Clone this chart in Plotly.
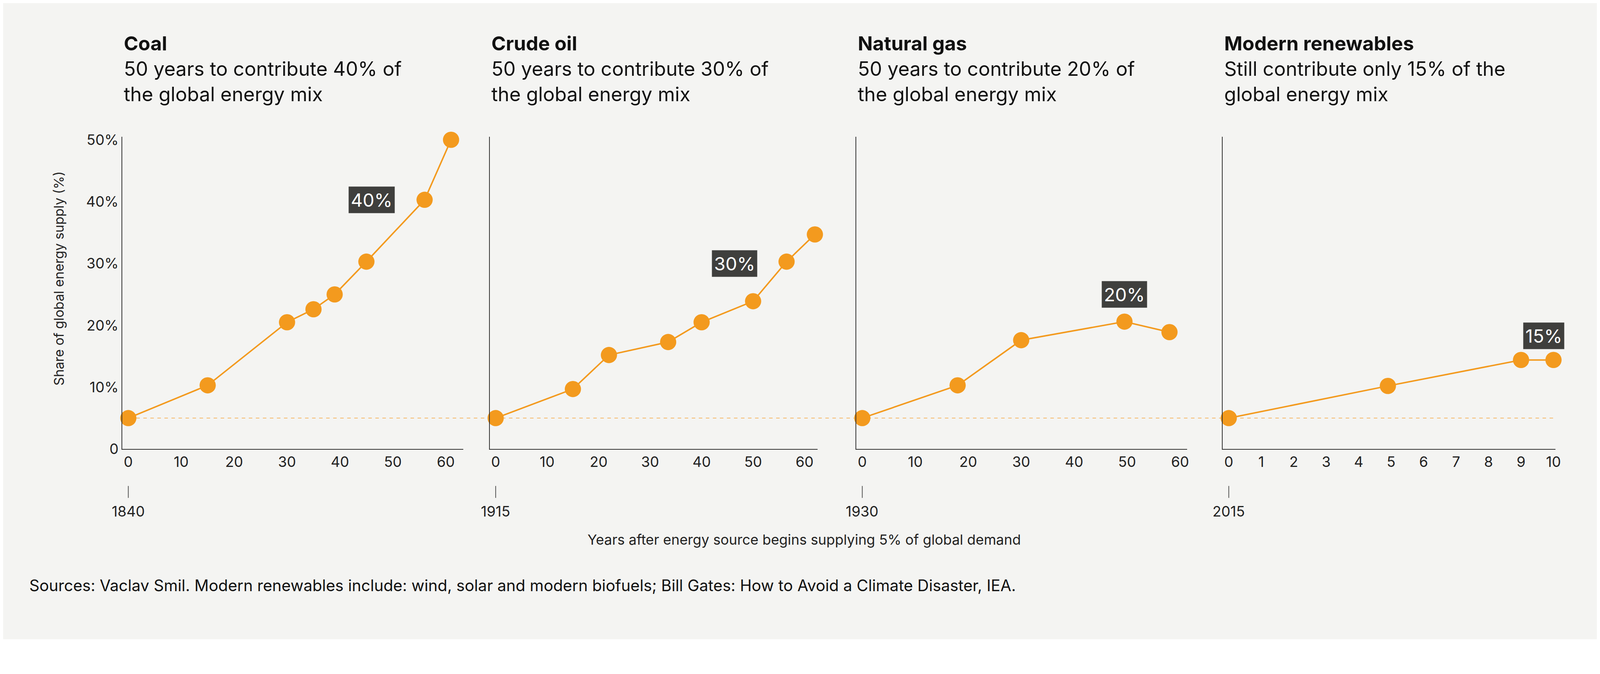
import plotly.graph_objects as go

# ---- data ----
coal_x = [0, 15, 30, 35, 39, 45, 56, 61]
coal_y = [5, 10.3, 20.5, 22.6, 25, 30.3, 40.3, 50]
oil_x = [0, 15, 22, 33.5, 40, 50, 56.5, 62]
oil_y = [5, 9.7, 15.2, 17.3, 20.5, 23.9, 30.3, 34.7]
gas_x = [0, 18, 30, 49.5, 58]
gas_y = [5, 10.3, 17.6, 20.6, 18.9]
ren_x = [0, 4.9, 9, 10]
ren_y = [5, 10.2, 14.4, 14.4]

titles = ["Coal", "Crude oil", "Natural gas", "Modern renewables"]
subtitles = [
    "50 years to contribute 40% of<br>the global energy mix",
    "50 years to contribute 30% of<br>the global energy mix",
    "50 years to contribute 20% of<br>the global energy mix",
    "Still contribute only 15% of the<br>global energy mix",
]
start_years = ["1840", "1915", "1930", "2015"]
badges = ["40%", "30%", "20%", "15%"]
badge_pos = [(46, 40.3), (46.4, 30), (49.5, 25), (9.7, 18.3)]

xs = [coal_x, oil_x, gas_x, ren_x]
ys = [coal_y, oil_y, gas_y, ren_y]

W, H = 1568, 623  # reference coordinates
domains = [(117, 452), (478, 800), (838, 1163), (1198, 1525)]
ranges = [(-1.15, 63.3), (-1.16, 62.5), (-1.16, 61.3), (-0.19, 10.06)]
tickvals = [list(range(0, 61, 10))] * 3 + [list(range(0, 11))]

ORANGE = "#F39A1E"
BG = "#F4F4F2"
FONT = "Inter"
S = 0.944  # scale to fit the viewport

fig = go.Figure()

for i in range(4):
    n = "" if i == 0 else str(i + 1)
    fig.add_trace(go.Scatter(
        x=xs[i], y=ys[i], mode="lines+markers",
        line=dict(color=ORANGE, width=4 * S),
        marker=dict(color=ORANGE, size=44 * S),
        cliponaxis=False, showlegend=False,
        xaxis="x" + n, yaxis="y" + n,
    ))
    d0, d1 = domains[i]
    fig.layout["xaxis" + n] = dict(
        domain=[d0 / W, d1 / W], range=list(ranges[i]),
        tickvals=tickvals[i], showgrid=False, zeroline=False,
        showline=True, linecolor="#333", linewidth=2,
        ticks="", tickfont=dict(size=39 * S, color="#222"),
        anchor="y" + n, fixedrange=True,
    )
    fig.layout["yaxis" + n] = dict(
        domain=[1 - 441 / H, 1 - 128 / H], range=[0, 50.5],
        tickvals=[0, 10, 20, 30, 40, 50],
        ticktext=["0", "10%", "20%", "30%", "40%", "50%"],
        showticklabels=(i == 0), showgrid=False, zeroline=False,
        showline=True, linecolor="#333", linewidth=2, ticks="",
        tickfont=dict(size=39 * S, color="#222"),
        anchor="x" + n, fixedrange=True,
    )
    # title block
    fig.add_annotation(
        xref="paper", yref="paper", x=(d0 + 1) / W, y=1 - 22 / H,
        xanchor="left", yanchor="top", align="left", showarrow=False,
        text="<b>" + titles[i] + "</b><br>" + subtitles[i],
        font=dict(size=53 * S, color="#111", family=FONT),
    )
    # badge
    bx, by = badge_pos[i]
    fig.add_annotation(
        xref="x" + n, yref="y" + n, x=bx, y=by, showarrow=False,
        text=badges[i], bgcolor="#3F3F3D", borderpad=5,
        font=dict(size=50 * S, color="white", family=FONT),
    )
    # start year tick + label
    fig.add_shape(type="line", xref="x" + n, yref="paper",
                  x0=0, x1=0, y0=1 - 478 / H, y1=1 - 490 / H,
                  line=dict(color="#555", width=2))
    fig.add_annotation(
        xref="x" + n, yref="paper", x=0, y=1 - 513 / H, showarrow=False,
        text=start_years[i], font=dict(size=39 * S, color="#222", family=FONT),
    )

# 5% reference line across all panels
fig.add_shape(type="line", xref="paper", yref="y",
              x0=117 / W, x1=1525 / W, y0=5, y1=5, layer="below",
              line=dict(color="#F5B96A", width=2, dash="dash"))

fig.add_annotation(xref="paper", yref="paper", x=46 / W, y=1 - 270 / H,
                   textangle=-90, showarrow=False,
                   text="Share of global energy supply (%)",
                   font=dict(size=36 * S, color="#222", family=FONT))
fig.add_annotation(xref="paper", yref="paper", x=787 / W, y=1 - 541 / H,
                   showarrow=False,
                   text="Years after energy source begins supplying 5% of global demand",
                   font=dict(size=38 * S, color="#222", family=FONT))
fig.add_annotation(xref="paper", yref="paper", x=25 / W, y=1 - 588 / H,
                   xanchor="left", showarrow=False,
                   text="Sources: Vaclav Smil. Modern renewables include: wind, solar and modern biofuels; Bill Gates: How to Avoid a Climate Disaster, IEA.",
                   font=dict(size=43 * S, color="#111", family=FONT))

fig.update_layout(
    width=4100, height=1628,
    margin=dict(l=0, r=0, t=0, b=0),
    paper_bgcolor=BG, plot_bgcolor=BG,
    font=dict(family=FONT),
)

fig.write_html("out.html")
